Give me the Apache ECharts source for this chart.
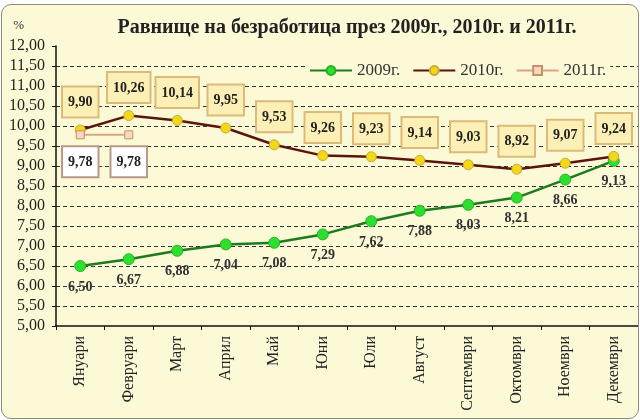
<!DOCTYPE html>
<html><head><meta charset="utf-8">
<script src="https://cdn.jsdelivr.net/npm/echarts@6/dist/echarts.min.js"></script>
<style>
html,body{margin:0;padding:0;background:#fff;}
#frame{position:absolute;left:1px;top:4px;width:636px;height:413px;border:1.5px solid #8a8a80;border-radius:10px;background:#fcf9d6;overflow:hidden;}
#c{position:absolute;left:-1px;top:-4px;width:640px;height:420px;}
</style></head>
<body><div id="frame"><div id="c"></div></div>
<script>
const months = ['Януари','Февруари','Март','Април','Май','Юни','Юли','Август','Септември','Октомври','Ноември','Декември'];
const s2009 = [6.50, 6.67, 6.88, 7.04, 7.08, 7.29, 7.62, 7.88, 8.03, 8.21, 8.66, 9.13];
const s2010 = [9.90, 10.26, 10.14, 9.95, 9.53, 9.26, 9.23, 9.14, 9.03, 8.92, 9.07, 9.24];
const s2011 = [9.78, 9.78];
const names = ['2009г.','2010г.','2011г.'];

const fmt = p => p.value.toFixed(2).replace('.', ',');
const serif = 'Liberation Serif';
const chart = echarts.init(document.getElementById('c'));
chart.setOption({
  animation:false,
  backgroundColor:'transparent',
  title:{text:'Равнище на безработица през 2009г., 2010г. и 2011г.',left:341,top:12,textAlign:'center',
    textStyle:{fontFamily:serif,fontWeight:'bold',fontSize:20,color:'#222'}},
  legend:{left:304,top:59,itemGap:12,itemWidth:42,itemHeight:11,backgroundColor:'#fcf9d6',padding:[2,4],
    textStyle:{fontFamily:serif,fontSize:17,color:'#333'},data:names},
  grid:{left:55,right:3,top:45,bottom:95},
  xAxis:{type:'category',data:months,boundaryGap:true,
    axisLine:{lineStyle:{color:'#111',width:1.5}},
    axisTick:{show:true,length:4,lineStyle:{color:'#111'}},
    axisLabel:{rotate:90,fontFamily:serif,fontSize:16,color:'#222',margin:10}},
  yAxis:{type:'value',min:5,max:12,interval:0.5,name:'%',nameLocation:'end',nameGap:14,
    nameTextStyle:{fontFamily:serif,fontSize:13,color:'#333',align:'right',padding:[0,32,0,0]},
    axisLine:{show:true,lineStyle:{color:'#111',width:1.5}},
    axisTick:{show:true,length:4,lineStyle:{color:'#111'}},
    axisLabel:{fontFamily:serif,fontSize:16,color:'#222',margin:11,formatter:v=>v.toFixed(2).replace('.',',')},
    splitLine:{show:true,showMaxLine:false,showMinLine:false,lineStyle:{color:'#333',type:[4,3],width:1}}},
  series:[
    {name:names[0],type:'line',data:s2009,symbol:'circle',symbolSize:11,z:3,
      lineStyle:{color:'#1e7a1e',width:2.5},itemStyle:{color:'#2ee02e',borderColor:'#25b025',borderWidth:1},
      label:{show:true,position:'bottom',distance:8,formatter:fmt,fontFamily:serif,fontWeight:'bold',fontSize:14,color:'#333'}},
    {name:names[1],type:'line',data:s2010,symbol:'circle',symbolSize:10,z:4,
      lineStyle:{color:'#5a160c',width:2.5},itemStyle:{color:'#f3d81a',borderColor:'#c9a830',borderWidth:1},
      label:{show:true,position:'top',distance:8,formatter:fmt,fontFamily:serif,fontWeight:'bold',fontSize:14,color:'#222',
        backgroundColor:'#fdf0b6',borderColor:'#dcbb78',borderWidth:2,padding:[8,5,7,5]}},
    {name:names[2],type:'line',data:s2011,symbol:'rect',symbolSize:8,z:5,
      lineStyle:{color:'#d9a585',width:2},itemStyle:{color:'#f9d8c0',borderColor:'#c8906a',borderWidth:1},
      label:{show:true,position:'bottom',distance:8,formatter:fmt,fontFamily:serif,fontWeight:'bold',fontSize:14,color:'#222',
        backgroundColor:'#ffffff',borderColor:'#b8988a',borderWidth:2,padding:[8,5,7,5]}}
  ]
});
</script></body></html>
